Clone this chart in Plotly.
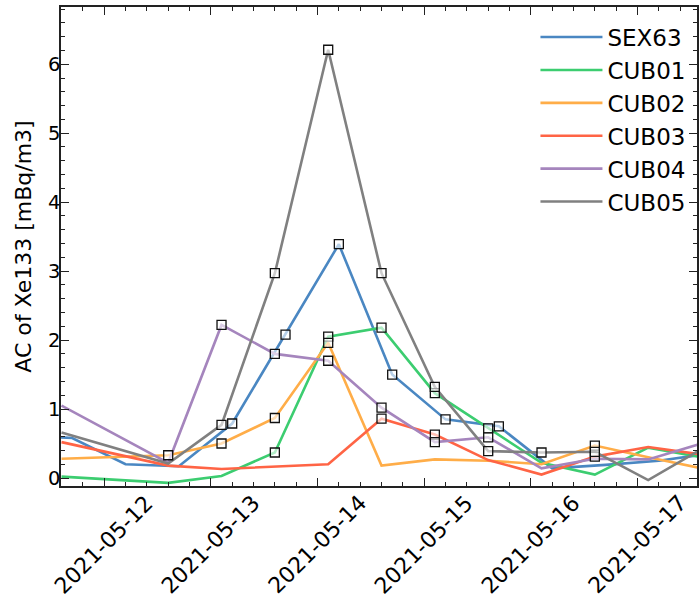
import plotly.graph_objects as go

# ---------------- data ----------------
series_names = ["SEX63", "CUB01", "CUB02", "CUB03", "CUB04", "CUB05"]

sex_times = ["2021-05-11 04:48", "2021-05-11 16:48", "2021-05-12 04:48", "2021-05-12 16:48",
             "2021-05-13 04:48", "2021-05-13 16:48", "2021-05-14 04:48", "2021-05-14 16:48",
             "2021-05-15 04:48", "2021-05-15 16:48", "2021-05-16 04:48", "2021-05-16 16:48",
             "2021-05-17 04:48", "2021-05-17 16:48"]
cub_times = ["2021-05-11 14:24", "2021-05-12 14:24", "2021-05-13 02:24", "2021-05-13 14:24",
             "2021-05-14 02:24", "2021-05-14 14:24", "2021-05-15 02:24", "2021-05-15 14:24",
             "2021-05-16 02:24", "2021-05-16 14:24", "2021-05-17 02:24", "2021-05-17 14:24"]

sex63 = [0.62, 0.58, 0.20, 0.17, 0.79, 2.08, 3.39, 1.50, 0.85, 0.75, 0.14, 0.19, 0.25, 0.36]
cub01 = [0.02, -0.07, 0.03, 0.37, 2.05, 2.18, 1.23, 0.72, 0.22, 0.05, 0.44, 0.30]
cub02 = [0.28, 0.33, 0.50, 0.87, 1.96, 0.18, 0.27, 0.25, 0.20, 0.47, 0.30, 0.14]
cub03 = [0.52, 0.18, 0.13, 0.17, 0.20, 0.86, 0.63, 0.26, 0.05, 0.31, 0.45, 0.34]
cub04 = [1.05, 0.22, 2.22, 1.80, 1.70, 1.02, 0.52, 0.59, 0.14, 0.28, 0.27, 0.50]
cub05 = [0.66, 0.21, 0.77, 2.97, 6.21, 2.97, 1.32, 0.39, 0.37, 0.38, -0.03, 0.42]

# detection flags (points drawn with a square marker)
sex63_det = [0, 0, 0, 0, 1, 1, 1, 1, 1, 1, 0, 0, 0, 0]
cub01_det = [0, 0, 0, 1, 1, 1, 1, 1, 0, 0, 0, 0]
cub02_det = [0, 1, 1, 1, 1, 0, 0, 0, 0, 1, 0, 0]
cub03_det = [0, 0, 0, 0, 0, 1, 1, 0, 0, 1, 0, 0]
cub04_det = [0, 0, 1, 1, 1, 1, 1, 1, 0, 0, 0, 0]
cub05_det = [0, 0, 1, 1, 1, 1, 1, 1, 1, 1, 0, 0]

tick_dates = ["2021-05-12", "2021-05-13", "2021-05-14", "2021-05-15", "2021-05-16", "2021-05-17"]
tick_labels = ["2021-05-12", "2021-05-13", "2021-05-14", "2021-05-15", "2021-05-16", "2021-05-17"]
y_ticks = [0, 1, 2, 3, 4, 5, 6]

x_range = ["2021-05-11 14:17", "2021-05-17 13:23"]
y_range = [-0.116, 6.83]

y_title = "AC of Xe133 [mBq/m3]"

# ---------------- style ----------------
colors = ["#4a87c2", "#3ccd70", "#ffad48", "#ff6445", "#a585bd", "#808080"]
FONT = "DejaVu Sans"

all_x = [sex_times, cub_times, cub_times, cub_times, cub_times, cub_times]
all_y = [sex63, cub01, cub02, cub03, cub04, cub05]
all_det = [sex63_det, cub01_det, cub02_det, cub03_det, cub04_det, cub05_det]

fig = go.Figure()
for name, xs, ys, c in zip(series_names, all_x, all_y, colors):
    fig.add_trace(go.Scatter(x=xs, y=ys, mode="lines", name=name,
                             line=dict(color=c, width=2.6)))

for xs, ys, det in zip(all_x, all_y, all_det):
    mx = [x for x, d in zip(xs, det) if d]
    my = [y for y, d in zip(ys, det) if d]
    fig.add_trace(go.Scatter(x=mx, y=my, mode="markers", showlegend=False,
                             hoverinfo="skip",
                             marker=dict(symbol="square", size=9,
                                         color="rgba(255,255,255,0.6)",
                                         line=dict(color="#111111", width=1.3))))

for d, lab in zip(tick_dates, tick_labels):
    fig.add_annotation(x=d, y=0, xref="x", yref="paper", text=lab, showarrow=False,
                       textangle=-45, xanchor="center", yanchor="top", yshift=-2,
                       font=dict(family=FONT, size=22, color="black"))

fig.update_xaxes(type="date", range=x_range, showgrid=False, zeroline=False,
                 showline=True, linecolor="#222222", linewidth=1.5, mirror="allticks",
                 ticks="inside", ticklen=8, tickwidth=1.3, tickcolor="#222222",
                 tick0="2021-05-12", dtick=86400000, showticklabels=False,
                 minor=dict(ticks="inside", ticklen=4.5, tickwidth=1.1, tickcolor="#222222",
                            dtick=17280000, tick0="2021-05-12", showgrid=False))
fig.update_yaxes(range=y_range, showgrid=False, zeroline=False,
                 showline=True, linecolor="#222222", linewidth=1.5, mirror="allticks",
                 ticks="inside", ticklen=8, tickwidth=1.3, tickcolor="#222222",
                 tickvals=y_ticks, tickfont=dict(family=FONT, size=19.5, color="black"),
                 ticklabelstandoff=-5,
                 minor=dict(ticks="inside", ticklen=4.5, tickwidth=1.1, tickcolor="#222222",
                            dtick=0.2, showgrid=False),
                 title=dict(text=y_title, font=dict(family=FONT, size=22, color="black"),
                            standoff=10))

fig.update_layout(width=700, height=600, margin=dict(l=61, r=1, t=7, b=114),
                  plot_bgcolor="white", paper_bgcolor="white",
                  font=dict(family=FONT, color="black"),
                  legend=dict(x=0.746, y=0.982, xanchor="left", yanchor="top",
                              bgcolor="rgba(0,0,0,0)", itemwidth=62,
                              font=dict(family=FONT, size=23, color="black")))

fig.write_html("out.html")
